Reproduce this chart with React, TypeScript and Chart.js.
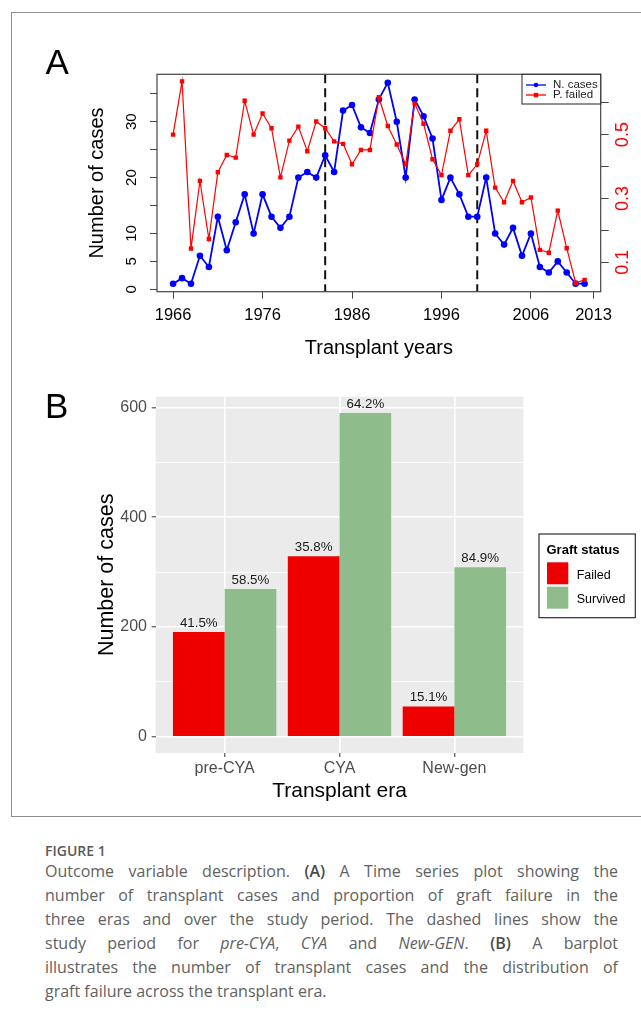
import React, { useEffect, useRef } from 'react';
import { Chart, registerables } from 'chart.js';

Chart.register(...registerables);

// ---- Panel A: yearly transplant cases and proportion of failed grafts ----
const YEARS = [
  1966, 1967, 1968, 1969, 1970, 1971, 1972, 1973, 1974, 1975, 1976, 1977,
  1978, 1979, 1980, 1981, 1982, 1983, 1984, 1985, 1986, 1987, 1988, 1989,
  1990, 1991, 1992, 1993, 1994, 1995, 1996, 1997, 1998, 1999, 2000, 2001,
  2002, 2003, 2004, 2005, 2006, 2007, 2008, 2009, 2010, 2011, 2012,
];
const N_CASES = [
  1, 2, 1, 6, 4, 13, 7, 12, 17, 10, 17, 13,
  11, 13, 20, 21, 20, 24, 21, 32, 33, 29, 28, 34,
  37, 30, 20, 34, 31, 27, 16, 20, 17, 13, 13, 20,
  10, 8, 11, 6, 10, 4, 3, 5, 3, 1, 1,
];
const P_FAILED = [
  0.5, 0.667, 0.143, 0.355, 0.173, 0.382, 0.436, 0.428, 0.606, 0.5, 0.566, 0.52,
  0.366, 0.481, 0.525, 0.448, 0.541, 0.52, 0.479, 0.471, 0.407, 0.452, 0.452, 0.617,
  0.527, 0.469, 0.407, 0.598, 0.534, 0.423, 0.373, 0.512, 0.548, 0.373, 0.407, 0.512,
  0.334, 0.288, 0.355, 0.288, 0.303, 0.139, 0.13, 0.262, 0.144, 0.036, 0.045,
];
const ERA_BOUNDARIES = [1983, 2000];
const YEAR_TICKS = [1966, 1976, 1986, 1996, 2006, 2013];
const CASE_TICKS = [0, 5, 10, 15, 20, 25, 30, 35];
const CASE_LABELS = [0, 5, 10, 20, 30];
const PROP_TICKS = [0.1, 0.2, 0.3, 0.4, 0.5, 0.6];
const PROP_LABELS = [0.1, 0.3, 0.5];

// ---- Panel B: graft status by transplant era ----
const ERAS = ['pre-CYA', 'CYA', 'New-gen'];
const FAILED = [191, 329, 55];
const SURVIVED = [269, 590, 309];
const COUNT_TICKS = [0, 100, 200, 300, 400, 500, 600];
const COUNT_LABELS = [0, 200, 400, 600];

const SANS = "'Liberation Sans', Arial, Helvetica, sans-serif";
const BLUE = '#0000FF';
const RED = '#FF0000';
const BAR_RED = '#EE0000';
const BAR_GREEN = '#8FBC8B';

function drawRotated(ctx: CanvasRenderingContext2D, text: string, x: number, y: number) {
  ctx.save();
  ctx.translate(x, y);
  ctx.rotate(-Math.PI / 2);
  ctx.fillText(text, 0, 0);
  ctx.restore();
}

const panelAPlugin = {
  id: 'panelA',
  beforeDatasetsDraw(chart: any) {
    const { ctx, chartArea: a, scales } = chart;
    ctx.save();
    ctx.strokeStyle = '#111';
    ctx.lineWidth = 2;
    ctx.setLineDash([9, 5]);
    ERA_BOUNDARIES.forEach((yr) => {
      const x = scales.x.getPixelForValue(yr);
      ctx.beginPath();
      ctx.moveTo(x, a.top);
      ctx.lineTo(x, a.bottom);
      ctx.stroke();
    });
    ctx.restore();
  },
  afterDraw(chart: any) {
    const { ctx, chartArea: a, scales } = chart;
    ctx.save();
    // plot box
    ctx.strokeStyle = '#444';
    ctx.lineWidth = 1.2;
    ctx.strokeRect(a.left, a.top, a.right - a.left, a.bottom - a.top);

    ctx.textAlign = 'center';
    ctx.textBaseline = 'middle';
    // x tick labels
    ctx.fillStyle = '#000';
    ctx.font = `16.5px ${SANS}`;
    YEAR_TICKS.forEach((v) => ctx.fillText(String(v), scales.x.getPixelForValue(v), 315.5));
    // left tick labels (parallel to axis)
    ctx.font = `15px ${SANS}`;
    CASE_LABELS.forEach((v) => drawRotated(ctx, String(v), 132, scales.yL.getPixelForValue(v)));
    // right tick labels
    ctx.fillStyle = RED;
    ctx.font = `18px ${SANS}`;
    PROP_LABELS.forEach((v) => drawRotated(ctx, v.toFixed(1), 623.5, scales.yR.getPixelForValue(v)));
    // axis titles
    ctx.fillStyle = '#000';
    ctx.font = `20px ${SANS}`;
    drawRotated(ctx, 'Number of cases', 97, (a.top + a.bottom) / 2);
    ctx.fillText('Transplant years', (a.left + a.right) / 2, 348);

    // legend box
    const lx = 522, ly = a.top, lw = a.right - 522, lh = 104 - a.top;
    ctx.fillStyle = '#fff';
    ctx.fillRect(lx, ly, lw, lh);
    ctx.strokeStyle = '#222';
    ctx.lineWidth = 1;
    ctx.strokeRect(lx, ly, lw, lh);
    const rows = [
      { label: 'N. cases', color: BLUE, y: 85, square: false },
      { label: 'P. failed', color: RED, y: 95, square: true },
    ];
    rows.forEach((r) => {
      ctx.strokeStyle = r.color;
      ctx.lineWidth = 1.3;
      ctx.beginPath();
      ctx.moveTo(526, r.y);
      ctx.lineTo(546, r.y);
      ctx.stroke();
      ctx.fillStyle = r.color;
      if (r.square) {
        ctx.fillRect(533.8, r.y - 2.2, 4.4, 4.4);
      } else {
        ctx.beginPath();
        ctx.arc(536, r.y, 2.3, 0, Math.PI * 2);
        ctx.fill();
      }
      ctx.fillStyle = '#222';
      ctx.font = `11.5px ${SANS}`;
      ctx.textAlign = 'left';
      ctx.fillText(r.label, 553, r.y);
    });

    // panel letter
    ctx.fillStyle = '#000';
    ctx.font = `35px ${SANS}`;
    ctx.textAlign = 'left';
    ctx.textBaseline = 'alphabetic';
    ctx.fillText('A', 45.5, 74);
    ctx.restore();
  },
};

const panelBPlugin = {
  id: 'panelB',
  beforeDraw(chart: any) {
    const { ctx, chartArea: a } = chart;
    ctx.save();
    ctx.fillStyle = '#EBEBEB';
    ctx.fillRect(a.left, a.top, a.right - a.left, a.bottom - a.top);
    ctx.restore();
  },
  afterDatasetsDraw(chart: any) {
    const { ctx } = chart;
    ctx.save();
    ctx.fillStyle = '#1a1a1a';
    ctx.font = `13.3px ${SANS}`;
    ctx.textAlign = 'center';
    ctx.textBaseline = 'middle';
    chart.data.datasets.forEach((ds: any, d: number) => {
      const meta = chart.getDatasetMeta(d);
      meta.data.forEach((bar: any, i: number) => {
        const total = FAILED[i] + SURVIVED[i];
        const pct = ((ds.data[i].y / total) * 100).toFixed(1) + '%';
        ctx.fillText(pct, bar.x, bar.y - 9);
      });
    });
    ctx.restore();
  },
  afterDraw(chart: any) {
    const { ctx, chartArea: a, scales } = chart;
    ctx.save();
    ctx.textBaseline = 'middle';
    // tick labels
    ctx.fillStyle = '#4D4D4D';
    ctx.font = `16px ${SANS}`;
    ctx.textAlign = 'right';
    COUNT_LABELS.forEach((v) => ctx.fillText(String(v), 147, scales.y.getPixelForValue(v)));
    ctx.textAlign = 'center';
    ERAS.forEach((name, i) => ctx.fillText(name, scales.x.getPixelForValue(i + 1), 399));
    // axis titles
    ctx.fillStyle = '#000';
    ctx.font = `21.5px ${SANS}`;
    drawRotated(ctx, 'Number of cases', 107.5, (a.top + a.bottom) / 2);
    ctx.font = `21px ${SANS}`;
    ctx.fillText('Transplant era', (a.left + a.right) / 2, 421);

    // legend
    ctx.strokeStyle = '#1a1a1a';
    ctx.lineWidth = 1.1;
    ctx.strokeRect(539, 164, 96.3, 83.7);
    ctx.textAlign = 'left';
    ctx.font = `bold 13px ${SANS}`;
    ctx.fillText('Graft status', 546.5, 180.7);
    ctx.fillStyle = BAR_RED;
    ctx.fillRect(547, 192.3, 21.3, 22);
    ctx.fillStyle = BAR_GREEN;
    ctx.fillRect(547, 216.7, 21.3, 22);
    ctx.fillStyle = '#000';
    ctx.font = `12.5px ${SANS}`;
    ctx.fillText('Failed', 576.7, 205.7);
    ctx.fillText('Survived', 576.7, 229.3);

    // panel letter
    ctx.font = `35px ${SANS}`;
    ctx.textBaseline = 'alphabetic';
    ctx.fillText('B', 45, 48);
    ctx.restore();
  },
};

function fixedTicks(values: number[]) {
  return (scale: any) => {
    scale.ticks = values.map((value) => ({ value }));
  };
}

function TimeSeriesPanel() {
  const ref = useRef<HTMLCanvasElement | null>(null);
  useEffect(() => {
    if (!ref.current) return;
    const chart = new Chart(ref.current, {
      type: 'line',
      data: {
        datasets: [
          {
            label: 'P. failed',
            data: YEARS.map((yr, i) => ({ x: yr, y: P_FAILED[i] })),
            yAxisID: 'yR',
            borderColor: RED,
            backgroundColor: RED,
            borderWidth: 1.2,
            pointStyle: 'rect',
            pointRadius: 3.1,
            pointBorderWidth: 0,
            pointBackgroundColor: RED,
            tension: 0,
          },
          {
            label: 'N. cases',
            data: YEARS.map((yr, i) => ({ x: yr, y: N_CASES[i] })),
            yAxisID: 'yL',
            borderColor: BLUE,
            backgroundColor: BLUE,
            borderWidth: 1.8,
            pointStyle: 'circle',
            pointRadius: 3.3,
            pointBorderWidth: 0,
            pointBackgroundColor: BLUE,
            tension: 0,
          },
        ],
      },
      options: {
        responsive: false,
        animation: false,
        events: [],
        layout: { padding: { top: 74.3, left: 0, right: 0, bottom: 0 } },
        plugins: { legend: { display: false }, tooltip: { enabled: false } },
        scales: {
          x: {
            type: 'linear',
            min: 1964.2,
            max: 2013.8,
            afterBuildTicks: fixedTicks(YEAR_TICKS),
            afterFit: (s: any) => { s.height = 78.3; },
            ticks: { display: false },
            grid: { drawOnChartArea: false, drawTicks: true, tickLength: 7, color: '#444', lineWidth: 1 },
            border: { display: false },
          },
          yL: {
            type: 'linear',
            position: 'left',
            min: -0.43,
            max: 38.5,
            afterBuildTicks: fixedTicks(CASE_TICKS),
            afterFit: (s: any) => { s.width = 157; },
            ticks: { display: false },
            grid: { drawOnChartArea: false, drawTicks: true, tickLength: 7, color: '#444', lineWidth: 1 },
            border: { display: false },
          },
          yR: {
            type: 'linear',
            position: 'right',
            min: 0.0078,
            max: 0.689,
            afterBuildTicks: fixedTicks(PROP_TICKS),
            afterFit: (s: any) => { s.width = 40.3; },
            ticks: { display: false },
            grid: { drawOnChartArea: false, drawTicks: true, tickLength: 8, color: '#444', lineWidth: 1 },
            border: { display: false },
          },
        },
      } as any,
      plugins: [panelAPlugin],
    });
    return () => chart.destroy();
  }, []);
  return (
    <canvas
      ref={ref}
      width={641}
      height={370}
      style={{ position: 'absolute', left: 0, top: 0, width: 641, height: 370 }}
    />
  );
}

function EraBarPanel() {
  const ref = useRef<HTMLCanvasElement | null>(null);
  useEffect(() => {
    if (!ref.current) return;
    const isMajor = (c: any) => c.tick && c.tick.value % 200 === 0;
    const chart = new Chart(ref.current, {
      type: 'bar',
      data: {
        datasets: [
          {
            label: 'Failed',
            data: FAILED.map((v, i) => ({ x: i + 1, y: v })),
            backgroundColor: BAR_RED,
            borderWidth: 0,
            categoryPercentage: 0.9,
            barPercentage: 1,
          },
          {
            label: 'Survived',
            data: SURVIVED.map((v, i) => ({ x: i + 1, y: v })),
            backgroundColor: BAR_GREEN,
            borderWidth: 0,
            categoryPercentage: 0.9,
            barPercentage: 1,
          },
        ],
      },
      options: {
        responsive: false,
        animation: false,
        events: [],
        layout: { padding: { top: 26.7, left: 0, right: 117.7, bottom: 0 } },
        plugins: { legend: { display: false }, tooltip: { enabled: false } },
        scales: {
          x: {
            type: 'linear',
            min: 0.4,
            max: 3.6,
            offset: false,
            afterBuildTicks: fixedTicks([1, 2, 3]),
            afterFit: (s: any) => { s.height = 57; },
            ticks: { display: false },
            grid: {
              offset: false,
              color: '#FFFFFF',
              lineWidth: 1.6,
              drawTicks: true,
              tickLength: 4,
              tickColor: '#333333',
              tickWidth: 1,
            },
            border: { display: false },
          },
          y: {
            type: 'linear',
            min: -29.5,
            max: 619.5,
            afterBuildTicks: fixedTicks(COUNT_TICKS),
            afterFit: (s: any) => { s.width = 155.7; },
            ticks: { display: false },
            grid: {
              color: '#FFFFFF',
              lineWidth: (c: any) => (isMajor(c) ? 1.6 : 0.8),
              drawTicks: true,
              tickLength: 4,
              tickColor: (c: any) => (isMajor(c) ? '#333333' : 'rgba(0,0,0,0)'),
              tickWidth: 1,
            },
            border: { display: false },
          },
        },
      } as any,
      plugins: [panelBPlugin],
    });
    return () => chart.destroy();
  }, []);
  return (
    <canvas
      ref={ref}
      width={641}
      height={440}
      style={{ position: 'absolute', left: 0, top: 370, width: 641, height: 440 }}
    />
  );
}

const CAPTION_FONT = "'Open Sans', 'Noto Sans', sans-serif";
const strong: React.CSSProperties = { fontWeight: 600, color: '#4a4a4a' };

const CAPTION_LINES: React.ReactNode[] = [
  <>Outcome variable description. <span style={strong}>(A)</span> A Time series plot showing the</>,
  <>number of transplant cases and proportion of graft failure in the</>,
  <>three eras and over the study period. The dashed lines show the</>,
  <>study period for <i>pre-CYA</i>, <i>CYA</i> and <i>New-GEN</i>. <span style={strong}>(B)</span> A barplot</>,
  <>illustrates the number of transplant cases and the distribution of</>,
  <>graft failure across the transplant era.</>,
];

export default function App() {
  useEffect(() => {
    document.body.style.margin = '0';
    document.body.style.background = '#ffffff';
  }, []);
  return (
    <div
      style={{
        position: 'absolute',
        left: 0,
        top: 0,
        width: 641,
        height: 1023,
        overflow: 'hidden',
        background: '#ffffff',
      }}
    >
      <div
        style={{
          position: 'absolute',
          left: 11,
          top: 12,
          width: 700,
          height: 803,
          borderTop: '1px solid #8c8c8c',
          borderLeft: '1px solid #8c8c8c',
          borderBottom: '1px solid #8c8c8c',
        }}
      />
      <TimeSeriesPanel />
      <EraBarPanel />
      <div
        style={{
          position: 'absolute',
          left: 45,
          top: 842,
          fontFamily: CAPTION_FONT,
          fontSize: 14,
          fontWeight: 600,
          lineHeight: '18px',
          color: '#5a5a5a',
        }}
      >
        FIGURE 1
      </div>
      <div
        style={{
          position: 'absolute',
          left: 45,
          top: 859,
          width: 573,
          fontFamily: CAPTION_FONT,
          fontSize: 16,
          lineHeight: '24px',
          color: '#616161',
        }}
      >
        {CAPTION_LINES.map((line, i) => (
          <div
            key={i}
            style={{
              textAlign: 'justify',
              textAlignLast: i < CAPTION_LINES.length - 1 ? 'justify' : 'left',
              whiteSpace: 'nowrap',
            }}
          >
            {line}
          </div>
        ))}
      </div>
    </div>
  );
}
